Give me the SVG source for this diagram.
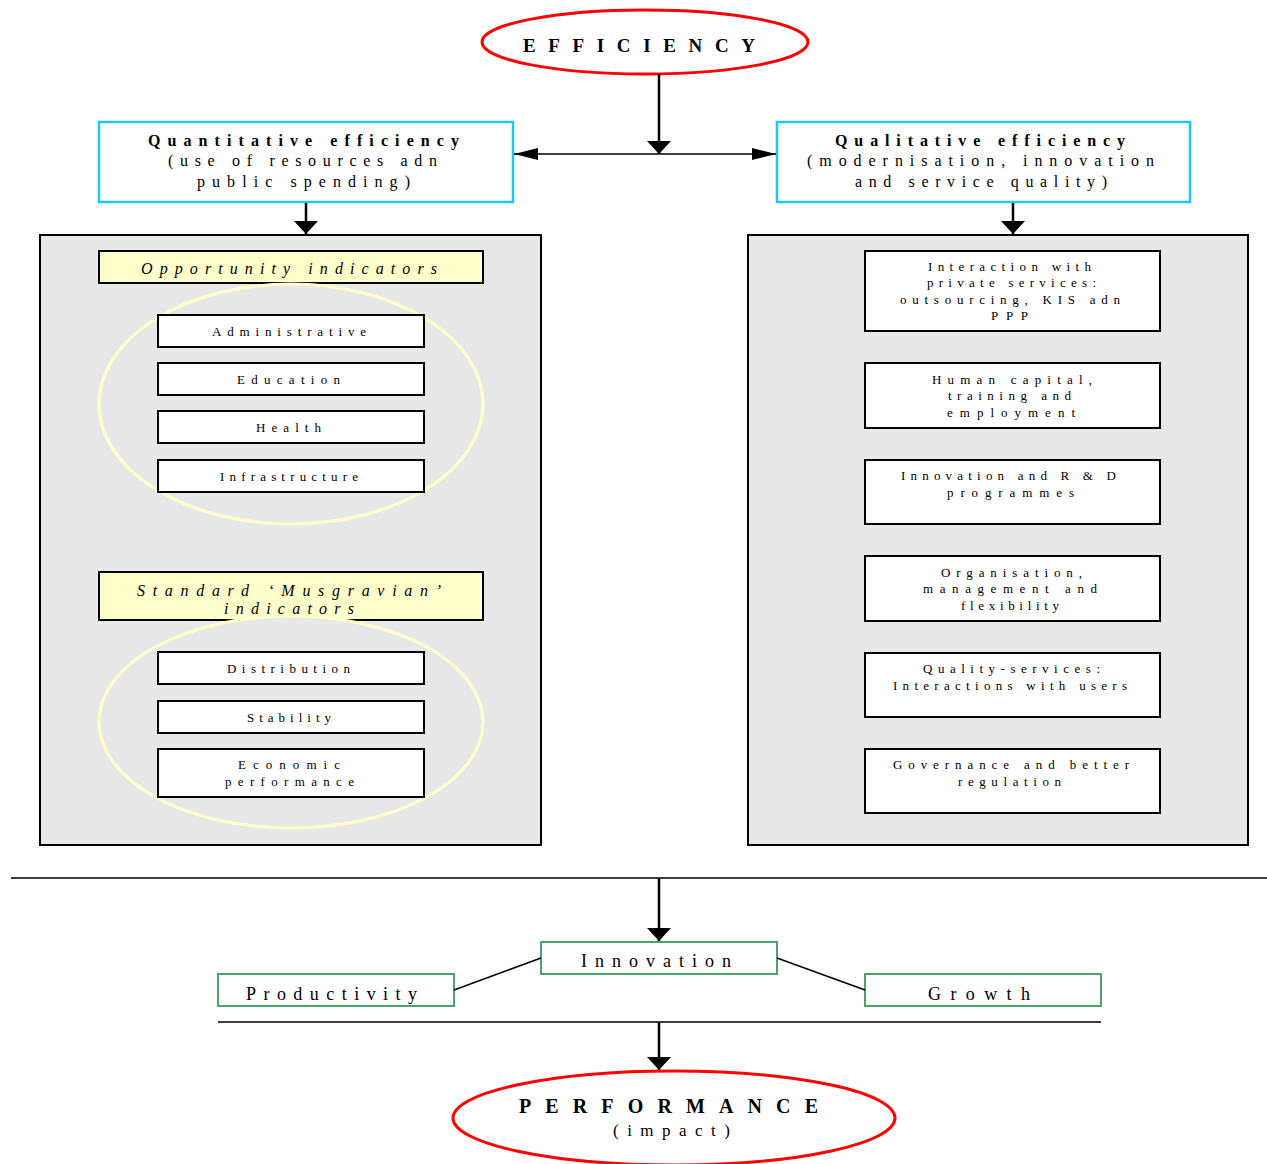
<svg xmlns="http://www.w3.org/2000/svg" width="1267" height="1164" viewBox="0 0 1267 1164">
<style>
text{font-family:"Liberation Serif","Times New Roman",serif;fill:#000;text-anchor:start}
.t{font-size:13px}
.q{font-size:16px}
.b{font-weight:bold}
.i{font-style:italic}
.box{fill:#fff;stroke:#000;stroke-width:2}
.cy{fill:#fff;stroke:#1ec8f5;stroke-width:2.5}
.gr{fill:#fff;stroke:#3a9a5e;stroke-width:1.8}
.yb{fill:#ffffcc;stroke:#000;stroke-width:2}
.panel{fill:#e8e8e8;stroke:#000;stroke-width:2}
.yel{fill:#e8e8e8;stroke:#ffffc8;stroke-width:3}
.red{fill:#fff;stroke:#ff0000;stroke-width:3}
.c{stroke:#000;stroke-width:2.5;fill:none}
.l{stroke:#000;stroke-width:1.5;fill:none}
</style>
<defs>
<marker id="ad" markerUnits="userSpaceOnUse" markerWidth="14" markerHeight="26" refX="13" refY="12" orient="auto"><path d="M0,0 L13,12 L0,24 z" fill="#000"/></marker>
<marker id="ah" markerUnits="userSpaceOnUse" markerWidth="26" markerHeight="14" refX="24" refY="6" orient="auto"><path d="M0,0 L24,6 L0,12 z" fill="#000"/></marker>
</defs>
<rect width="1267" height="1164" fill="#fff"/>

<g id="efficiency">
<ellipse class="red" cx="645" cy="42" rx="163" ry="32"/>
<text class="b" x="523" y="52" font-size="19" textLength="232" lengthAdjust="spacing">EFFICIENCY</text>
</g>

<g id="quantitative">
<rect class="cy" x="99" y="122" width="414" height="80"/>
<text class="q b" x="148" y="146" textLength="311" lengthAdjust="spacing">Quantitative efficiency</text>
<text class="q" x="168" y="166" textLength="269" lengthAdjust="spacing">(use of resources adn</text>
<text class="q" x="197" y="187" textLength="213" lengthAdjust="spacing">public spending)</text>
</g>

<g id="qualitative">
<rect class="cy" x="777" y="122" width="413" height="80"/>
<text class="q b" x="835" y="146" textLength="290" lengthAdjust="spacing">Qualitative efficiency</text>
<text class="q" x="807" y="166" textLength="347" lengthAdjust="spacing">(modernisation, innovation</text>
<text class="q" x="855" y="187" textLength="252" lengthAdjust="spacing">and service quality)</text>
</g>

<g id="left-panel">
<rect class="panel" x="40" y="235" width="501" height="610"/>
</g>
<g id="right-panel">
<rect class="panel" x="748" y="235" width="500" height="610"/>
</g>

<g id="opportunity">
<rect class="yb" x="99" y="251" width="384" height="32"/>
<text class="q i" x="141" y="274" font-size="15" textLength="296" lengthAdjust="spacing">Opportunity indicators</text>
</g>
<g id="opportunity-group">
<ellipse class="yel" cx="291" cy="404" rx="192" ry="120"/>
</g>
<g id="administrative"><rect class="box" x="158" y="315" width="266" height="32"/><text class="t" x="212" y="336" textLength="154" lengthAdjust="spacing">Administrative</text></g>
<g id="education"><rect class="box" x="158" y="363" width="266" height="32"/><text class="t" x="237" y="384" textLength="103" lengthAdjust="spacing">Education</text></g>
<g id="health"><rect class="box" x="158" y="411" width="266" height="32"/><text class="t" x="256" y="432" textLength="65" lengthAdjust="spacing">Health</text></g>
<g id="infrastructure"><rect class="box" x="158" y="460" width="266" height="32"/><text class="t" x="220" y="481" textLength="138" lengthAdjust="spacing">Infrastructure</text></g>

<g id="musgravian">
<rect class="yb" x="99" y="572" width="384" height="48"/>
<text class="q i" x="137" y="596" textLength="304" lengthAdjust="spacing">Standard ‘Musgravian’</text>
<text class="q i" x="224" y="614" textLength="130" lengthAdjust="spacing">indicators</text>
</g>
<g id="musgravian-group">
<ellipse class="yel" cx="291" cy="722" rx="192" ry="106"/>
</g>
<g id="distribution"><rect class="box" x="158" y="652" width="266" height="32"/><text class="t" x="227" y="673" textLength="123" lengthAdjust="spacing">Distribution</text></g>
<g id="stability"><rect class="box" x="158" y="701" width="266" height="32"/><text class="t" x="247" y="722" textLength="84" lengthAdjust="spacing">Stability</text></g>
<g id="economic"><rect class="box" x="158" y="749" width="266" height="48"/><text class="t" x="238" y="769" textLength="102" lengthAdjust="spacing">Economic</text><text class="t" x="225" y="786" textLength="129" lengthAdjust="spacing">performance</text></g>

<g id="interaction"><rect class="box" x="865" y="251" width="295" height="80"/>
<text class="t" x="928" y="271" textLength="163" lengthAdjust="spacing">Interaction with</text>
<text class="t" x="927" y="287" textLength="169" lengthAdjust="spacing">private services:</text>
<text class="t" x="900" y="304" textLength="220" lengthAdjust="spacing">outsourcing, KIS adn</text>
<text class="t" x="991" y="320" textLength="37" lengthAdjust="spacing">PPP</text></g>
<g id="human-capital"><rect class="box" x="865" y="363" width="295" height="65"/>
<text class="t" x="932" y="384" textLength="160" lengthAdjust="spacing">Human capital,</text>
<text class="t" x="948" y="400" textLength="123" lengthAdjust="spacing">training and</text>
<text class="t" x="947" y="417" textLength="128" lengthAdjust="spacing">employment</text></g>
<g id="innovation-rd"><rect class="box" x="865" y="460" width="295" height="64"/>
<text class="t" x="901" y="480" textLength="215" lengthAdjust="spacing">Innovation and R &amp; D</text>
<text class="t" x="947" y="497" textLength="127" lengthAdjust="spacing">programmes</text></g>
<g id="organisation"><rect class="box" x="865" y="556" width="295" height="65"/>
<text class="t" x="941" y="577" textLength="141" lengthAdjust="spacing">Organisation,</text>
<text class="t" x="923" y="593" textLength="174" lengthAdjust="spacing">management and</text>
<text class="t" x="961" y="610" textLength="98" lengthAdjust="spacing">flexibility</text></g>
<g id="quality-services"><rect class="box" x="865" y="653" width="295" height="64"/>
<text class="t" x="923" y="673" textLength="177" lengthAdjust="spacing">Quality-services:</text>
<text class="t" x="893" y="690" textLength="234" lengthAdjust="spacing">Interactions with users</text></g>
<g id="governance"><rect class="box" x="865" y="749" width="295" height="64"/>
<text class="t" x="893" y="769" textLength="236" lengthAdjust="spacing">Governance and better</text>
<text class="t" x="958" y="786" textLength="103" lengthAdjust="spacing">regulation</text></g>

<g id="innovation"><rect class="gr" x="541" y="942" width="236" height="32"/>
<text x="581" y="967" font-size="18" textLength="150" lengthAdjust="spacing">Innovation</text></g>
<g id="productivity"><rect class="gr" x="218" y="974" width="236" height="32"/>
<text x="246" y="1000" font-size="18" textLength="171" lengthAdjust="spacing">Productivity</text></g>
<g id="growth"><rect class="gr" x="865" y="974" width="236" height="32"/>
<text x="928" y="1000" font-size="18" textLength="102" lengthAdjust="spacing">Growth</text></g>

<g id="performance">
<ellipse class="red" cx="674" cy="1118" rx="221" ry="47"/>
<text class="b" x="519" y="1113" font-size="20" textLength="299" lengthAdjust="spacing">PERFORMANCE</text>
<text x="613" y="1136" font-size="17" textLength="117" lengthAdjust="spacing">(impact)</text>
</g>

<g id="connectors">
<line class="c" x1="659" y1="74" x2="659" y2="154" marker-end="url(#ad)"/>
<line class="l" x1="659" y1="154" x2="514" y2="154" marker-end="url(#ah)"/>
<line class="l" x1="659" y1="154" x2="776" y2="154" marker-end="url(#ah)"/>
<line class="c" x1="306" y1="203" x2="306" y2="234" marker-end="url(#ad)"/>
<line class="c" x1="1013" y1="203" x2="1013" y2="234" marker-end="url(#ad)"/>
<line class="l" x1="11" y1="878" x2="1267" y2="878"/>
<line class="c" x1="659" y1="878" x2="659" y2="941" marker-end="url(#ad)"/>
<line class="l" x1="454" y1="990" x2="541" y2="958"/>
<line class="l" x1="777" y1="958" x2="865" y2="990"/>
<line class="l" x1="218" y1="1022" x2="1101" y2="1022"/>
<line class="c" x1="659" y1="1022" x2="659" y2="1070" marker-end="url(#ad)"/>
</g>
</svg>
